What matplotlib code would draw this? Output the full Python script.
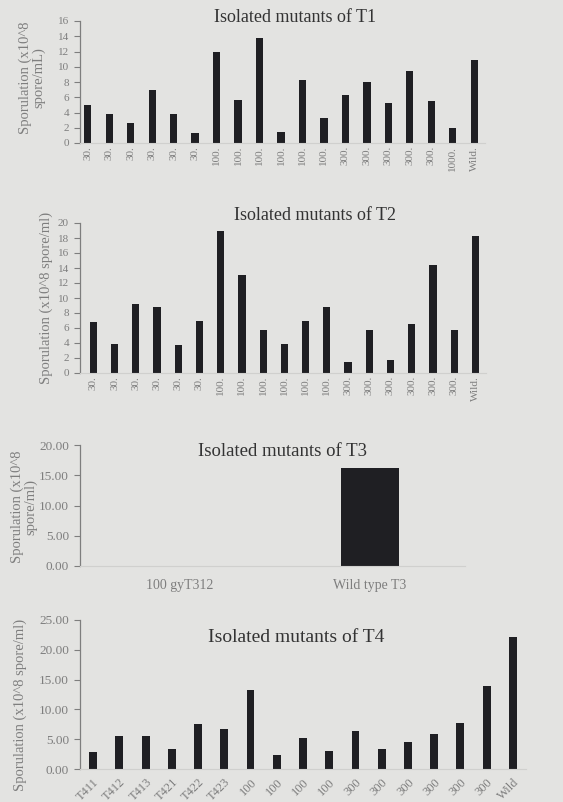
import matplotlib.pyplot as plt
import numpy as np

# sporulation counts (x10^8 spore/ml) of isolated mutants per wild type
t1_labels = ["30."] * 6 + ["100."] * 6 + ["300."] * 5 + ["1000.", "Wild."]
t1_values = [5.0, 3.8, 2.6, 7.0, 3.85, 1.3, 11.9, 5.7, 13.8, 1.45, 8.2, 3.25,
             6.35, 8.0, 5.2, 9.5, 5.5, 2.0, 10.9]

t2_labels = ["30."] * 6 + ["100."] * 6 + ["300."] * 6 + ["Wild."]
t2_values = [6.8, 3.8, 9.15, 8.85, 3.7, 6.9, 18.9, 13.1, 5.7, 3.85, 6.9, 8.85,
             1.45, 5.7, 1.75, 6.5, 14.45, 5.7, 18.3]

t3_labels = ["100 gyT312", "Wild type T3"]
t3_values = [0.0, 16.2]

t4_labels = ["T411", "T412", "T413", "T421", "T422", "T423",
             "100", "100", "100", "100",
             "300", "300", "300", "300", "300", "300", "Wild"]
t4_values = [2.9, 5.6, 5.6, 3.3, 7.55, 6.75, 13.25, 2.3, 5.25, 3.0, 6.4, 3.4,
             4.6, 5.8, 7.65, 13.95, 22.1]

PAGE = "#e3e3e1"
BAR = "#1f1f23"
GREY = "#7e7e7e"
DARK = "#333333"
W, H = 563, 802

plt.rcParams["font.family"] = ["Liberation Serif", "DejaVu Serif"]

fig = plt.figure(figsize=(W / 100, H / 100), dpi=100, facecolor=PAGE)


def px_axes(left, top, right, bottom):
    return fig.add_axes([left / W, 1 - bottom / H, (right - left) / W, (bottom - top) / H])


def style(ax, ymax, step, fmt, tick_size):
    ax.set_facecolor("none")
    for side in ("top", "right"):
        ax.spines[side].set_visible(False)
    ax.spines["left"].set_color(GREY)
    ax.spines["left"].set_linewidth(0.9)
    ax.spines["bottom"].set_color("#d0d0ce")
    ax.spines["bottom"].set_linewidth(0.8)
    ax.set_ylim(0, ymax)
    ticks = np.arange(0, ymax + step / 2, step)
    ax.set_yticks(ticks)
    ax.set_yticklabels([fmt.format(t) for t in ticks])
    ax.tick_params(axis="y", direction="out", length=4, width=0.8, color=GREY,
                   labelcolor=GREY, labelsize=tick_size, pad=4)
    ax.tick_params(axis="x", length=0, labelcolor=GREY)


def title(x, y, text, size=13):
    fig.text(x / W, 1 - y / H, text, ha="center", va="center",
             fontsize=size, color=DARK)


def ylabel(x, y, text, size=10.5):
    fig.text(x / W, 1 - y / H, text, ha="center", va="center", rotation=90,
             fontsize=size, color=GREY, linespacing=1.0, multialignment="center")


# T1
ax1 = px_axes(80, 21, 485, 143)
x1 = np.arange(len(t1_values))
ax1.bar(x1, t1_values, width=0.34, color=BAR)
ax1.set_xlim(-0.36, 18.5)
style(ax1, 16, 2, "{:.0f}", 8)
ax1.set_xticks(x1)
ax1.set_xticklabels(t1_labels, rotation=90, fontsize=8, va="top", ha="center")
ax1.tick_params(axis="x", pad=2)
title(295, 17, "Isolated mutants of T1")
ylabel(32, 78, "Sporulation (x10^8\nspore/mL)")

# T2
ax2 = px_axes(80, 223, 486, 373)
x2 = np.arange(len(t2_values))
ax2.bar(x2, t2_values, width=0.34, color=BAR)
ax2.set_xlim(-0.63, 18.5)
style(ax2, 20, 2, "{:.0f}", 8)
ax2.set_xticks(x2)
ax2.set_xticklabels(t2_labels, rotation=90, fontsize=8, va="top", ha="center")
ax2.tick_params(axis="x", pad=2)
title(315, 216, "Isolated mutants of T2")
ylabel(46, 298, "Sporulation (x10^8 spore/ml)")

# T3
ax3 = px_axes(80, 445, 465, 566)
x3 = np.arange(len(t3_values))
ax3.bar(x3, t3_values, width=0.31, color=BAR)
ax3.set_xlim(-0.526, 1.5)
style(ax3, 20, 5, "{:.2f}", 9.5)
ax3.set_xticks(x3)
ax3.set_xticklabels(t3_labels, fontsize=10)
ax3.tick_params(axis="x", pad=9)
title(282, 451, "Isolated mutants of T3", size=13.5)
ylabel(24, 507, "Sporulation (x10^8\nspore/ml)")

# T4
ax4 = px_axes(80, 620, 526, 769)
x4 = np.arange(len(t4_values))
ax4.bar(x4, t4_values, width=0.3, color=BAR)
ax4.set_xlim(-0.5, 16.5)
style(ax4, 25, 5, "{:.2f}", 9.5)
ax4.set_xticks(x4)
ax4.set_xticklabels(t4_labels, rotation=45, fontsize=9, ha="right",
                    rotation_mode="anchor")
ax4.tick_params(axis="x", pad=5)
title(296, 637, "Isolated mutants of T4", size=14)
ylabel(20, 705, "Sporulation (x10^8 spore/ml)")

fig.savefig("out.png", dpi=100, facecolor=PAGE)
